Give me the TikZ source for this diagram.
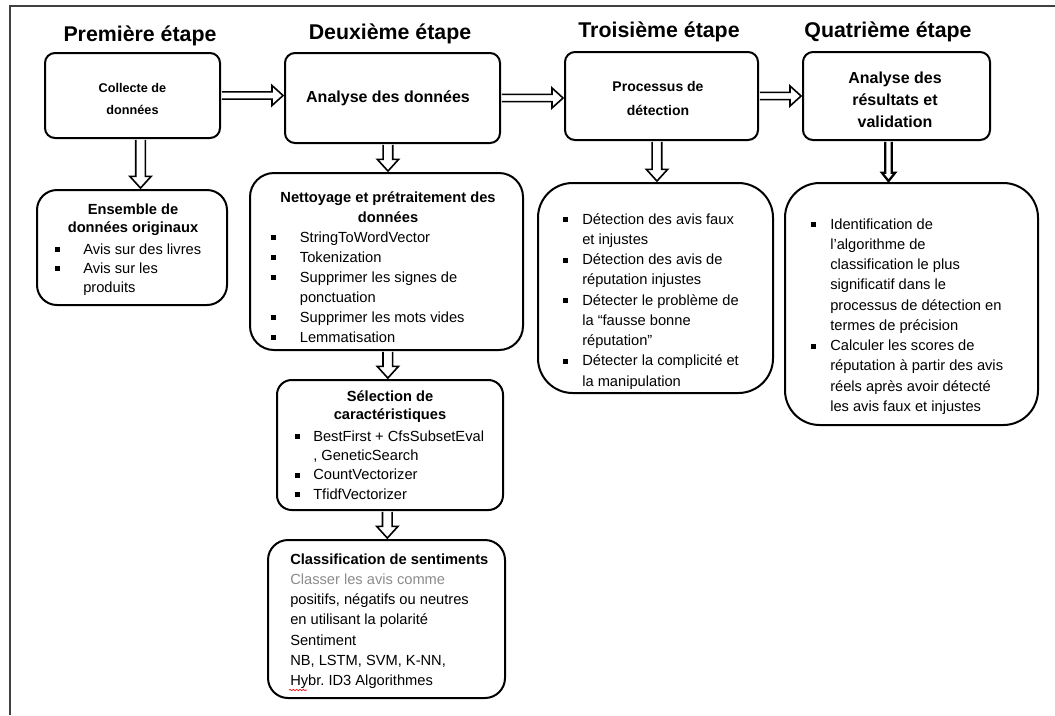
\documentclass[tikz,border=0pt]{standalone}
\usepackage{fontspec}
\setmainfont{Liberation Sans}
\usetikzlibrary{fit,calc,decorations.pathmorphing}

\newcommand{\bitem}[2]{\par\noindent\hangindent=#1\hangafter=1\makebox[#1][l]{\rule[1.4pt]{3.6pt}{3.6pt}}#2}
\newcommand{\blist}[3]{\begin{minipage}[t]{#1}\fontsize{11}{#2}\selectfont\raggedright\parindent=0pt #3\end{minipage}}
\newcommand{\btitle}[3]{\begin{minipage}[t]{#1}\fontsize{11}{#2}\selectfont\bfseries\centering #3\end{minipage}}

\newcommand{\harr}[2]{\path[blk] let \p1=(#1), \p2=(#2) in
  (\x1+0.7pt,\y1+2.7pt) -- (\x2-9pt,\y1+2.7pt) -- (\x2-9pt,\y1+7.5pt) -- (\x2-0.7pt,\y1)
  -- (\x2-9pt,\y1-7.5pt) -- (\x2-9pt,\y1-2.7pt) -- (\x1+0.7pt,\y1-2.7pt);}
\newcommand{\varr}[2]{\path[blk] let \p1=(#1), \p2=(#2) in
  (\x1-3.6pt,\y1-0.7pt) -- (\x1-3.6pt,\y2+9.5pt) -- (\x1-8pt,\y2+9.5pt) -- (\x1,\y2+0.7pt)
  -- (\x1+8pt,\y2+9.5pt) -- (\x1+3.6pt,\y2+9.5pt) -- (\x1+3.6pt,\y1-0.7pt);}
\newcommand{\varrd}[2]{\path[blk,line width=1.7pt] let \p1=(#1), \p2=(#2) in
  (\x1-2.4pt,\y1-0.7pt) -- (\x1-2.4pt,\y2+7pt) -- (\x1-5pt,\y2+7pt) -- (\x1,\y2+0.7pt)
  -- (\x1+5pt,\y2+7pt) -- (\x1+2.4pt,\y2+7pt) -- (\x1+2.4pt,\y1-0.7pt);}

\begin{document}
\begin{tikzpicture}[x=0.75pt,y=-0.75pt,
  box/.style={draw=black, line width=1.5pt, fill=white, inner sep=0pt},
  blk/.style={draw=black, line width=1.2pt, fill=white, line join=miter},
  hd/.style={font=\fontsize{16}{19}\selectfont\bfseries, inner sep=0pt, anchor=base},
  tx/.style={inner sep=0pt},
  frame/.style={draw=black!75, line width=0.8pt}]
\useasboundingbox (0,0) rectangle (1055,715);
\fill[white] (0,0) rectangle (1055,715);

% frame
\coordinate (f0) at (10,6);
\coordinate (f1) at (1055,6);
\coordinate (f2) at (10,715);
\draw[frame] (f1) -- (f0) -- (f2);

% headings
\node[hd] (h1) at (140,41) {Première étape};
\node[hd] (h2) at (390,39) {Deuxième étape};
\node[hd] (h3) at (659,37) {Troisième étape};
\node[hd] (h4) at (888,37) {Quatrième étape};

% top boxes
\node[box, rounded corners=7.5pt, fit={(45,53) (220,138)}] (A) {};
\node[box, rounded corners=7.5pt, fit={(285,53) (500,143)}] (B) {};
\node[box, rounded corners=7.5pt, fit={(565,52) (758,140)}] (C) {};
\node[box, rounded corners=7.5pt, fit={(803,52) (990,140)}] (D) {};

\node[tx, align=center, font=\fontsize{9.5}{16.5}\selectfont\bfseries] (At) at (132.5,99) {Collecte de\\données};
\node[tx, align=center, font=\fontsize{12}{16}\selectfont\bfseries] (Bt) at (388,98) {Analyse des données};
\node[tx, align=center, font=\fontsize{10.5}{18}\selectfont\bfseries] (Ct) at (658,98) {Processus de\\détection};
\node[tx, align=center, font=\fontsize{12}{16.5}\selectfont\bfseries] (Dt) at (895,100) {Analyse des\\résultats et\\validation};

% lower boxes
\node[box, rounded corners=15pt, fit={(37,190) (227,305)}] (E) {};
\node[box, rounded corners=18pt, fit={(250,173) (523,350)}] (F) {};
\node[box, rounded corners=11pt, fit={(277,380) (503,510)}] (G) {};
\node[box, rounded corners=15pt, fit={(268,540) (505,698)}] (H) {};
\node[box, rounded corners=26pt, fit={(538,183) (773,393)}] (I) {};
\node[box, rounded corners=26pt, fit={(785,183) (1038,425)}] (J) {};

% box E
\node[tx, anchor=base] (Et) at (133,214) {\btitle{150pt}{13.5pt}{Ensemble de\\données originaux}};
\node[tx, anchor=base west] (El) at (55,254) {\blist{150pt}{14.3pt}{%
  \bitem{21pt}{Avis sur des livres}%
  \bitem{21pt}{Avis sur les\newline produits}}};

% box F
\node[tx, anchor=base] (Ft) at (388,202) {\btitle{250pt}{15pt}{Nettoyage et prétraitement des\\données}};
\node[tx, anchor=base west] (Fl) at (271,242) {\blist{200pt}{15pt}{%
  \bitem{21.5pt}{StringToWordVector}%
  \bitem{21.5pt}{Tokenization}%
  \bitem{21.5pt}{Supprimer les signes de\newline ponctuation}%
  \bitem{21.5pt}{Supprimer les mots vides}%
  \bitem{21.5pt}{Lemmatisation}}};

% box G
\node[tx, anchor=base] (Gt) at (390,401) {\btitle{200pt}{13.5pt}{Sélection de\\caractéristiques}};
\node[tx, anchor=base west] (Gl) at (295,441) {\blist{200pt}{14.5pt}{%
  \bitem{13.5pt}{BestFirst + CfsSubsetEval\newline , GeneticSearch}%
  \bitem{13.5pt}{CountVectorizer}%
  \bitem{13.5pt}{TfidfVectorizer}}};

% box H
\node[tx, anchor=base west] (Hl) at (290,564) {\blist{200pt}{15.2pt}{%
  {\bfseries Classification de sentiments}\par
  {\color{black!45}Classer les avis comme}\par
  positifs, négatifs ou neutres\par
  en utilisant la polarité\par
  Sentiment\par
  NB, LSTM, SVM, K-NN,\par
  Hybr.\ ID3 Algorithmes}};
\draw[red, line width=0.5pt, decorate, decoration={snake, amplitude=0.5pt, segment length=2.5pt}] (289,690) -- (307,690);

% box I
\node[tx, anchor=base west] (Il) at (563,224) {\blist{220pt}{15.2pt}{%
  \bitem{14.25pt}{Détection des avis faux\newline et injustes}%
  \bitem{14.25pt}{Détection des avis de\newline réputation injustes}%
  \bitem{14.25pt}{Détecter le problème de\newline la “fausse bonne\newline réputation”}%
  \bitem{14.25pt}{Détecter la complicité et\newline la manipulation}}};

% box J
\node[tx, anchor=base west] (Jl) at (811,229) {\blist{220pt}{15.2pt}{%
  \bitem{14.25pt}{Identification de\newline l'algorithme de\newline classification le plus\newline significatif dans le\newline processus de détection en\newline termes de précision}%
  \bitem{14.25pt}{Calculer les scores de\newline réputation à partir des avis\newline réels après avoir détecté\newline les avis faux et injustes}}};

% arrows
\harr{A.east}{B.west}
\harr{B.east}{C.west}
\harr{C.east}{D.west}
\varr{[xshift=6pt]A.south}{E.north}
\varr{[xshift=-3.4pt]B.south}{F.north}
\varr{[xshift=-3.4pt]C.south}{I.north}
\varrd{[xshift=-6pt]D.south}{J.north}
\varr{[xshift=1pt]F.south}{G.north}
\varr{[xshift=-2pt]G.south}{H.north}
\end{tikzpicture}
\end{document}
